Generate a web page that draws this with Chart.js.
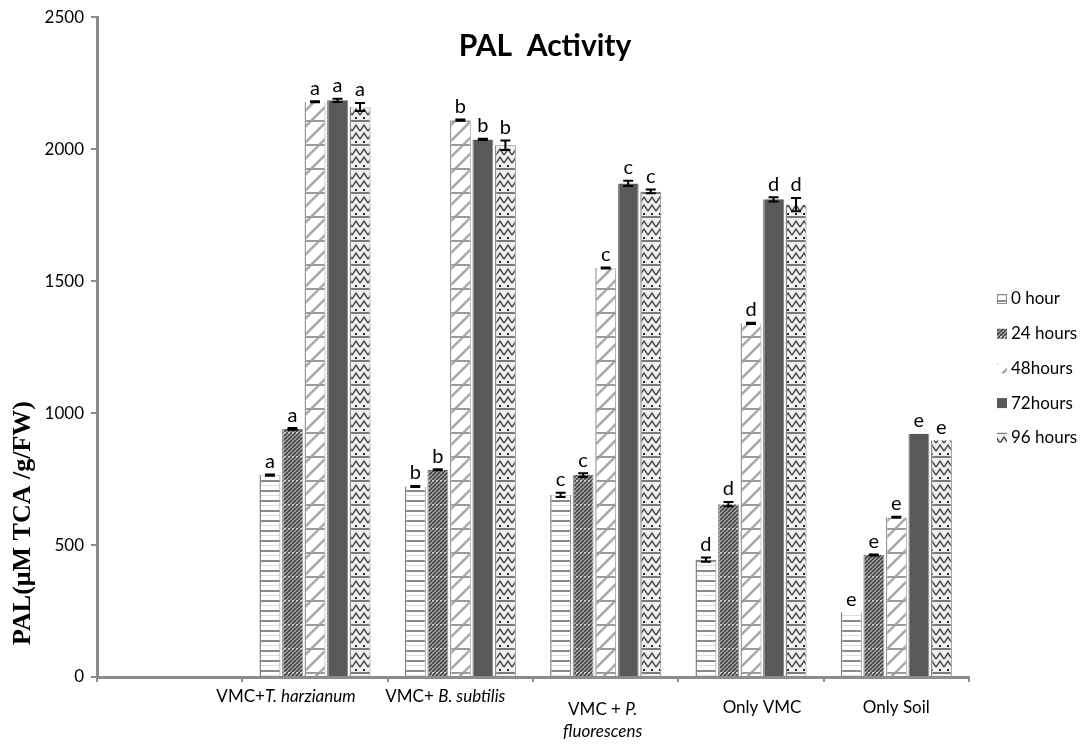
<!DOCTYPE html>
<html><head><meta charset="utf-8">
<script src="https://cdn.jsdelivr.net/npm/chart.js@4.4.1/dist/chart.umd.min.js"></script>
<style>html,body{margin:0;padding:0;background:#fff}#wrap{width:1085px;height:744px;position:relative}</style>
</head><body><div id="wrap"><canvas id="c"></canvas></div>
<script>
// ---------- data ----------
const categories = ['', 'VMC+T. harzianum', 'VMC+ B. subtilis', ['VMC + P.', 'fluorescens'], 'Only VMC', 'Only Soil'];
const italicParts = ['T. harzianum', 'B. subtilis', 'P.', 'fluorescens'];
const seriesNames = ['0 hour', '24 hours', '48hours', '72hours', '96 hours'];
const hour0  = [null, 765, 722, 690, 445, 245];
const hour24 = [null, 940, 785, 765, 655, 462];
const hour48 = [null, 2180, 2110, 1550, 1340, 605];
const hour72 = [null, 2185, 2037, 1870, 1810, 922];
const hour96 = [null, 2160, 2015, 1840, 1790, 897];
const err0  = [null, 2, 2, 8, 8, 0];
const err24 = [null, 3, 2, 7, 8, 2];
const err48 = [null, 2, 2, 2, 2, 2];
const err72 = [null, 6, 2, 10, 8, 0];
const err96 = [null, 15, 18, 7, 25, 0];
const sigLetters = ['', 'a', 'b', 'c', 'd', 'e'];
const yTicks = [0, 500, 1000, 1500, 2000, 2500];
const chartTitle = 'PAL  Activity';
const yTitle = 'PAL(μM TCA /g/FW)';

// ---------- styles ----------
const FONT = 'Lato, "Open Sans", sans-serif';
const labelOffsets = [[0, [20]], [-29, [20]], [-15, [20]], [-3, [33, 55]], [11, [31]], [0, [31]]];

const canvas = document.getElementById('c');
const ctx0 = canvas.getContext('2d');
function makePattern(w, h, draw) {
  const c = document.createElement('canvas'); c.width = w; c.height = h;
  const g = c.getContext('2d'); draw(g, w, h);
  return ctx0.createPattern(c, 'repeat');
}
const pat0 = makePattern(6, 10, (g, w, h) => {
  g.fillStyle = '#ffffff'; g.fillRect(0, 0, w, h);
  g.fillStyle = '#8a8a8a'; g.fillRect(0, 0, w, 2);
  g.fillStyle = '#dcdcdc'; g.fillRect(0, 5, w, 1);
});
const pat24 = makePattern(4, 24, (g, w, h) => {
  g.fillStyle = '#a2a2a2'; g.fillRect(0, 0, w, h);
  g.strokeStyle = '#3a3a3a'; g.lineWidth = 1.3;
  for (let o = -8; o <= h + 8; o += 4) { g.beginPath(); g.moveTo(0, o + 4); g.lineTo(4, o); g.stroke(); }
  g.fillStyle = '#cfcfcf'; g.fillRect(0, 0, 2, 1.5);
});
const pat48 = makePattern(16, 48, (g, w, h) => {
  g.fillStyle = '#ffffff'; g.fillRect(0, 0, w, h);
  g.strokeStyle = '#a8a8a8'; g.lineWidth = 2.4;
  for (let o = -16; o <= h + 16; o += 16) { g.beginPath(); g.moveTo(-2, o + 18); g.lineTo(18, o - 2); g.stroke(); }
  g.fillStyle = '#9a9a9a'; g.fillRect(0, 0, w, 2); g.fillRect(0, 24, w, 2);
});
const col72 = '#595959';
const pat96 = makePattern(8, 24, (g, w, h) => {
  g.fillStyle = '#f0f0f0'; g.fillRect(0, 0, w, h);
  g.strokeStyle = '#4a4a4a'; g.lineWidth = 1.5;
  for (const b of [8, 16]) {
    g.beginPath(); g.moveTo(0, b + 3); g.lineTo(4, b - 3); g.lineTo(8, b + 3); g.stroke();
  }
  g.fillStyle = '#7a7a7a'; g.fillRect(0, 0, w, 2);
  g.fillStyle = '#222'; g.fillRect(3, 21, 2, 2);
});
const fills = [pat0, pat24, pat48, col72, pat96];
const borders = ['#808080', '#9a9a9a', '#9a9a9a', '#8a8a8a', '#8a8a8a'];
const seriesData = [hour0, hour24, hour48, hour72, hour96];
const seriesErr = [err0, err24, err48, err72, err96];

const datasets = seriesNames.map((n, i) => ({
  label: n, data: seriesData[i], errors: seriesErr[i],
  backgroundColor: fills[i], borderColor: borders[i],
  borderWidth: {left: 1.5, right: 1, top: 0, bottom: 0},
  categoryPercentage: 0.775, barPercentage: 0.93
}));

const extras = {
  id: 'extras',
  afterDatasetsDraw(chart) {
    const g = chart.ctx, y = chart.scales.y;
    g.save();
    chart.data.datasets.forEach((ds, di) => {
      const meta = chart.getDatasetMeta(di);
      meta.data.forEach((bar, i) => {
        const v = ds.data[i]; if (v == null) return;
        const e = ds.errors[i] || 0;
        const yt = y.getPixelForValue(v + e), yb = y.getPixelForValue(v - e);
        if (e > 0) {
          g.strokeStyle = '#000'; g.lineWidth = 2;
          g.beginPath();
          g.moveTo(bar.x, yt); g.lineTo(bar.x, yb);
          g.moveTo(bar.x - 5, yt); g.lineTo(bar.x + 5, yt);
          g.moveTo(bar.x - 5, yb); g.lineTo(bar.x + 5, yb);
          g.stroke();
        }
        g.fillStyle = '#000'; g.font = '20px ' + FONT;
        g.textAlign = 'center'; g.textBaseline = 'bottom';
        g.fillText(sigLetters[i], bar.x, Math.min(yt, bar.y) - 3);
      });
    });
    g.restore();
  },
  afterDraw(chart) {
    const g = chart.ctx, x = chart.scales.x, ca = chart.chartArea;
    g.save();
    // title
    g.fillStyle = '#000'; g.font = 'bold 30px ' + FONT; g.textAlign = 'center'; g.textBaseline = 'middle';
    g.fillText(chartTitle, 545, 46);
    // y title
    g.save(); g.translate(23, 523); g.rotate(-Math.PI / 2);
    g.font = 'bold 26px "Liberation Serif", "Times New Roman", serif';
    g.fillText(yTitle, 0, 0); g.restore();
    // x labels with italic parts
    const re = new RegExp('(' + italicParts.map(s => s.replace(/\./g, '\\.')).join('|') + ')');
    categories.forEach((cat, i) => {
      const lines = Array.isArray(cat) ? cat : [cat];
      const [dx, dys] = labelOffsets[i];
      const cx = x.getPixelForValue(i) + dx;
      lines.forEach((line, li) => {
        if (!line) return;
        const segs = line.split(re).filter(s => s.length).map(p => ({t: p, it: italicParts.includes(p)}));
        let tw = 0;
        segs.forEach(s => { g.font = (s.it ? 'italic ' : '') + '17px ' + FONT; s.w = g.measureText(s.t).width; tw += s.w; });
        let px = cx - tw / 2;
        g.textAlign = 'left'; g.textBaseline = 'middle'; g.fillStyle = '#000';
        segs.forEach(s => { g.font = (s.it ? 'italic ' : '') + '17px ' + FONT; g.fillText(s.t, px, ca.bottom + dys[li]); px += s.w; });
      });
    });
    // legend
    const ly0 = 299, lstep = 34.7;
    seriesNames.forEach((n, i) => {
      const yy = ly0 + i * lstep;
      g.fillStyle = fills[i]; g.fillRect(997, yy - 5, 10, 10);
      if (i === 0) { g.strokeStyle = '#8a8a8a'; g.lineWidth = 1; g.strokeRect(997.5, yy - 4.5, 9, 9); }
      g.fillStyle = '#000'; g.font = '17px ' + FONT; g.textAlign = 'left'; g.textBaseline = 'middle';
      g.fillText(n, 1011, yy);
    });
    g.restore();
  }
};

new Chart(canvas, {
  type: 'bar',
  data: {labels: categories.map(c => Array.isArray(c) ? c.join(' ') : c), datasets},
  options: {
    responsive: true, maintainAspectRatio: false, animation: false,
    layout: {padding: {left: 0, right: 116, top: 15, bottom: 0}},
    plugins: {legend: {display: false}, title: {display: false}, tooltip: {enabled: false}},
    scales: {
      x: {
        grid: {offset: true, drawOnChartArea: false, drawTicks: true, tickLength: 5, color: '#8c8c8c', lineWidth: 2},
        border: {display: true, color: '#8c8c8c', width: 3},
        ticks: {display: false},
        afterFit(s) { s.height = 67; }
      },
      y: {
        min: 0, max: 2500,
        afterBuildTicks(s) { s.ticks = yTicks.map(v => ({value: v})); },
        grid: {drawOnChartArea: false, drawTicks: true, tickLength: 6, color: '#8c8c8c', lineWidth: 2},
        border: {display: true, color: '#8c8c8c', width: 3},
        ticks: {color: '#000', font: {family: FONT, size: 17}, padding: 7, callback: v => String(v)},
        afterFit(s) { s.width = 97; }
      }
    }
  },
  plugins: [extras]
});
</script></body></html>
